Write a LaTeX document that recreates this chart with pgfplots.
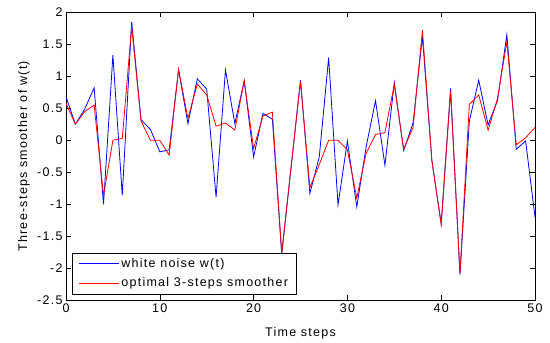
\documentclass[border=0pt]{standalone}
\usepackage{fontspec}
\setmainfont{Liberation Sans}[LetterSpace=10]
\usepackage{pgfplots}
\pgfplotsset{compat=1.18}
\pgfplotstableread{
t blue red
0 0.68 0.58
1 0.25 0.25
2 0.49 0.45
3 0.82 0.55
4 -1.00 -0.86
5 1.33 0.00
6 -0.86 0.03
7 1.85 1.78
8 0.32 0.30
9 0.17 0.00
10 -0.18 0.00
11 -0.15 -0.23
12 1.10 1.11
13 0.26 0.34
14 0.96 0.88
15 0.80 0.71
16 -0.89 0.22
17 1.10 0.27
18 0.26 0.16
19 0.93 0.93
20 -0.26 -0.13
21 0.42 0.38
22 0.33 0.44
23 -1.78 -1.76
24 -0.42 -0.41
25 0.94 0.92
26 -0.83 -0.74
27 -0.26 -0.38
28 1.29 0.00
29 -1.01 0.00
30 -0.01 -0.15
31 -1.04 -0.90
32 -0.10 -0.20
33 0.62 0.09
34 -0.39 0.12
35 0.90 0.87
36 -0.16 -0.14
37 0.27 0.20
38 1.62 1.72
39 -0.31 -0.31
40 -1.30 -1.32
41 0.81 0.77
42 -2.10 -2.08
43 0.30 0.56
44 0.94 0.71
45 0.24 0.16
46 0.62 0.65
47 1.65 1.54
48 -0.14 -0.07
49 -0.01 0.04
50 -1.20 0.20
}\datatable
\begin{document}
\begin{tikzpicture}[font=\fontsize{12.5bp}{15bp}\selectfont]
\begin{axis}[
  scale only axis, width=469bp, height=288bp,
  xmin=0, xmax=50, ymin=-2.5, ymax=2,
  xtick={0,10,...,50}, ytick={-2.5,-2,...,2},
  tick align=inside, xtick pos=both, ytick pos=both,
  major tick length=5bp,
  axis line style={line width=0.8pt},
  every tick/.style={black, line width=0.6pt},
  /pgf/number format/assume math mode=true,
  xlabel={Time steps}, ylabel={Three-steps smoother of w(t)},
  xlabel style={at={(axis description cs:0.5,-0.125)}, anchor=base},
  ylabel style={at={(axis description cs:-0.0896,0.5)}, anchor=center},
  legend style={at={(0.0134,0.0208)}, anchor=south west, draw=black,
    line width=0.7pt, inner xsep=6bp, inner ysep=3.5bp, row sep=5bp,
    font=\fontsize{12.5bp}{15bp}\selectfont},
  legend cell align=left,
  legend image code/.code={\draw[#1, line width=0.8pt] (0bp,0bp) -- (40bp,0bp);},
]
\addplot[blue, line width=0.8pt] table[x=t, y=blue] {\datatable};
\addlegendentry{white noise w(t)}
\addplot[red, line width=0.8pt] table[x=t, y=red] {\datatable};
\addlegendentry{optimal 3-steps smoother}
\end{axis}
\path (-66bp,-40bp) rectangle (484bp,300.3bp);
\end{tikzpicture}
\end{document}
